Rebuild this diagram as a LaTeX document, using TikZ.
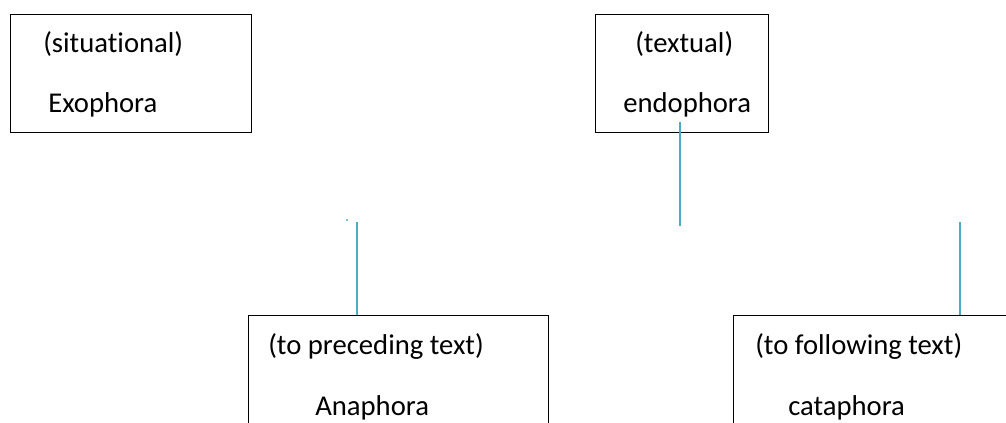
\documentclass[tikz,border=0pt]{standalone}
\usepackage{fontspec}
\setmainfont{Carlito}[Ligatures={NoCommon,NoContextual}]
\usepackage{tikz}
\usetikzlibrary{positioning}

\definecolor{linkblue}{HTML}{4BACC6}

\tikzset{
  box/.style={draw,line width=1pt,anchor=north west,inner sep=0pt},
  lbl/.style={anchor=base west,inner sep=0pt,font=\fontsize{21.5}{26}\selectfont},
  link/.style={draw=linkblue,line width=1.3pt}
}

\begin{document}
\begin{tikzpicture}[x=0.75pt,y=-0.75pt]
    \clip (0,0) rectangle (1006,423);
    \useasboundingbox (0,0) rectangle (1006,423);
    % boxes
    \node[box,minimum width=180.75pt,minimum height=88.5pt] (exo) at (10,14) {};
    \node[box,minimum width=129.75pt,minimum height=88.5pt] (endo) at (595,14) {};
    \node[box,minimum width=225pt,minimum height=120pt] (ana) at (248,315) {};
    \node[box,minimum width=240pt,minimum height=120pt] (cata) at (733,315) {};
    % texts
    \node[lbl] (exotype) at (43,53) {(situational)};
    \node[lbl] (exoname) at (48,113) {Exophora};
    \node[lbl] (endotype) at (635,53) {(textual)};
    \node[lbl] (endoname) at (623,113) {endophora};
    \node[lbl] (anatype) at (268,355) {(to preceding text)};
    \node[lbl] (ananame) at (315,416) {Anaphora};
    \node[lbl] (catatype) at (755,355) {(to following text)};
    \node[lbl] (cataname) at (788,416) {cataphora};
    % connectors
    \coordinate (endostart) at (680,122);
    \coordinate (endoend) at (680,226);
    \coordinate (anastart) at (357,222);
    \coordinate (catastart) at (960,222);
    \draw[link] (endostart) -- (endoend);
    \draw[link] (anastart) -- (anastart |- ana.north);
    \draw[link] (catastart) -- (catastart |- cata.north);
    \fill[linkblue] (347,220) circle (0.8pt);
\end{tikzpicture}
\end{document}
